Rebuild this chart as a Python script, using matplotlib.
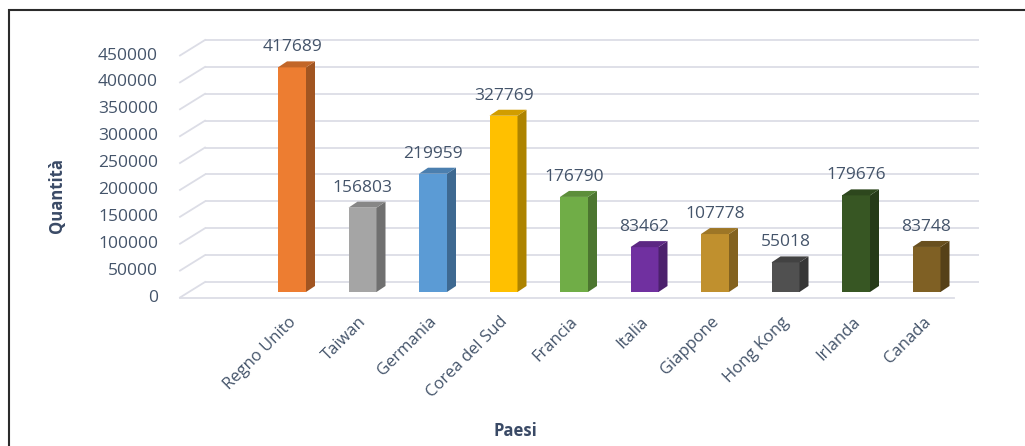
import matplotlib
matplotlib.use("Agg")
import matplotlib.pyplot as plt
from matplotlib.patches import Polygon, Rectangle
from matplotlib.colors import to_rgb

# ---- data ----
countries = ["Regno Unito", "Taiwan", "Germania", "Corea del Sud", "Francia",
             "Italia", "Giappone", "Hong Kong", "Irlanda", "Canada"]
quantities = [417689, 156803, 219959, 327769, 176790,
              83462, 107778, 55018, 179676, 83748]
bar_colors = ["#ED7D31", "#A5A5A5", "#5B9BD5", "#FFC000", "#70AD47",
              "#7030A0", "#C0902E", "#505050", "#375623", "#7F6024"]
y_ticks = [0, 50000, 100000, 150000, 200000, 250000, 300000, 350000, 400000, 450000]
x_title = "Paesi"
y_title = "Quantità"

# ---- figure / axes geometry (pixels) ----
W, H, DPI = 1025, 446, 100
fig = plt.figure(figsize=(W / DPI, H / DPI), dpi=DPI)
fig.patch.set_facecolor("white")

ux = 70.5            # pixels per category
uy = 242 / 450000    # pixels per unit of value
x0_px, y0_px = 292, 292   # pixel (from top) of category 0 / value 0 on the bar plane

ax = fig.add_axes([0, 0, 1, 1])
ax.set_xlim(-x0_px / ux, (W - x0_px) / ux)
ax.set_ylim((y0_px - H) / uy, y0_px / uy)
ax.axis("off")


def dx(px):
    return px / ux


def dy(px):
    return px / uy


txt_col = "#44546A"
title_col = "#3A4A66"
grid_col = "#DCDDE6"
font = "Open Sans"

# depth planes relative to the bar plane (pixels, x right / y up)
front = (-8, -5.5)
back = (17, 10)
x_left = dx(188 - x0_px)
x_right = dx(962 - x0_px)

# back wall gridlines, side wall diagonals and value labels
for v in y_ticks:
    ax.plot([x_left + dx(back[0]), x_right + dx(back[0])],
            [v + dy(back[1])] * 2, color=grid_col, lw=1.3, zorder=1,
            solid_capstyle="butt")
    ax.plot([x_left + dx(front[0]), x_left + dx(back[0])],
            [v + dy(front[1]), v + dy(back[1])], color=grid_col, lw=1.3, zorder=1)
    ax.text(x_left + dx(front[0] - 22), v + dy(front[1]), f"{v}",
            ha="right", va="center", fontsize=12.5, color=txt_col, family=font)

# floor front edge
ax.plot([x_left + dx(front[0]), x_right + dx(front[0])],
        [dy(front[1])] * 2, color=grid_col, lw=1.3, zorder=1)


def shade(c, f):
    r, g, b = to_rgb(c)
    return (r * f, g * f, b * f)


# 3D-looking columns
bw = dx(28)
ddx, ddy = dx(9), dy(6)
for i, (q, c) in enumerate(zip(quantities, bar_colors)):
    xl, xr = i - bw / 2, i + bw / 2
    ax.add_patch(Polygon([(xl, 0), (xr, 0), (xr, q), (xl, q)], closed=True,
                         facecolor=c, edgecolor="none", zorder=3))
    ax.add_patch(Polygon([(xr, 0), (xr + ddx, ddy), (xr + ddx, q + ddy), (xr, q)],
                         closed=True, facecolor=shade(c, 0.68), edgecolor="none", zorder=3))
    ax.add_patch(Polygon([(xl, q), (xr, q), (xr + ddx, q + ddy), (xl + ddx, q + ddy)],
                         closed=True, facecolor=shade(c, 0.82), edgecolor="none", zorder=3))
    ax.text(i, q + dy(20), f"{q}", ha="center", va="center",
            fontsize=12.5, color=txt_col, family=font, zorder=4)
    ax.text(i - dx(4), dy(-22), countries[i], rotation=45, rotation_mode="anchor",
            ha="right", va="top", fontsize=12, color=txt_col, family=font)

# axis titles
ax.text(dx(515 - x0_px), dy(y0_px - 431), x_title, ha="center", va="center",
        fontsize=12, fontweight="bold", color=title_col, family=font)
ax.text(dx(57 - x0_px), dy(y0_px - 195), y_title, ha="center", va="center",
        rotation=90, fontsize=12, fontweight="bold", color=title_col, family=font)

# outer frame
fig.add_artist(Rectangle((9 / W, -0.2), 1.2, (H - 10) / H + 0.2,
                         transform=fig.transFigure, fill=False,
                         edgecolor="#2B2B2B", lw=1.5))

fig.savefig("out.png", dpi=DPI)
